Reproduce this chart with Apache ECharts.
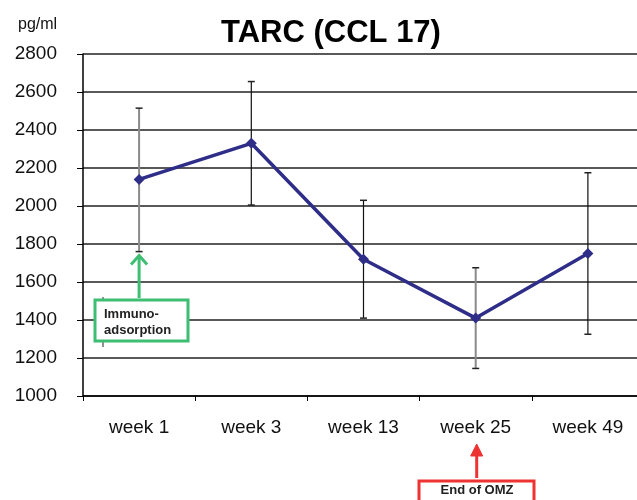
<!DOCTYPE html>
<html><head><meta charset="utf-8">
<script src="https://cdn.jsdelivr.net/npm/echarts@6/dist/echarts.min.js"></script>
<style>html,body{margin:0;padding:0;background:#fff;overflow:hidden}#c{width:644px;height:500px}</style>
</head><body><div id="c"></div>
<script>
var categories = ['week 1', 'week 3', 'week 13', 'week 25', 'week 49'];
var meanValues = [2140, 2330, 1720, 1410, 1750];
var errLow = [1760, 2005, 1410, 1145, 1325];
var errHigh = [2515, 2655, 2030, 1675, 2175];
var yTicks = [1000, 1200, 1400, 1600, 1800, 2000, 2200, 2400, 2600, 2800];

var chart = echarts.init(document.getElementById('c'), null, {renderer: 'canvas'});
var FONT = '"Liberation Sans", Arial, sans-serif';
var grayIdx = {0: true, 3: true};

chart.setOption({
  animation: false,
  backgroundColor: '#fff',
  title: {
    text: 'TARC (CCL 17)', left: 326, top: 13, textAlign: 'center',
    textStyle: {fontFamily: FONT, fontSize: 31, fontWeight: 'bold', color: '#000'}
  },
  grid: {left: 83, top: 54, right: 0, height: 342, containLabel: false},
  xAxis: {
    type: 'category', data: categories, boundaryGap: true,
    axisLine: {lineStyle: {color: '#000', width: 1.5}},
    axisTick: {show: true, length: 5, lineStyle: {color: '#000'}},
    axisLabel: {fontFamily: FONT, fontSize: 19, color: '#111', margin: 22}
  },
  yAxis: {
    type: 'value', min: yTicks[0], max: yTicks[yTicks.length - 1], interval: 200,
    axisLine: {show: true, lineStyle: {color: '#000', width: 1.5}},
    axisTick: {show: true, length: 6, lineStyle: {color: '#000'}},
    axisLabel: {fontFamily: FONT, fontSize: 19, color: '#111', margin: 26, formatter: function (v) { return String(v); }},
    splitLine: {lineStyle: {color: '#222', width: 1.5}}
  },
  series: [
    {
      type: 'custom', z: 2,
      data: categories.map(function (c, i) { return [i, errLow[i], errHigh[i]]; }),
      renderItem: function (params, api) {
        var i = api.value(0);
        var lo = api.coord([i, api.value(1)]);
        var hi = api.coord([i, api.value(2)]);
        var gray = grayIdx[params.dataIndex];
        var st = {stroke: gray ? '#8a8a8a' : '#111', lineWidth: gray ? 2 : 1.2};
        var w = 3.5;
        return {type: 'group', children: [
          {type: 'line', shape: {x1: lo[0], y1: lo[1], x2: hi[0], y2: hi[1]}, style: st},
          {type: 'line', shape: {x1: lo[0] - w, y1: lo[1], x2: lo[0] + w, y2: lo[1]}, style: {stroke: '#222', lineWidth: 1.5}},
          {type: 'line', shape: {x1: hi[0] - w, y1: hi[1], x2: hi[0] + w, y2: hi[1]}, style: {stroke: '#222', lineWidth: 1.5}}
        ]};
      }
    },
    {
      type: 'line', data: meanValues, z: 3,
      symbol: 'diamond', symbolSize: 11,
      lineStyle: {color: '#2E2D88', width: 3.5},
      itemStyle: {color: '#2E2D88'}
    }
  ]
});

var p1 = chart.convertToPixel({xAxisIndex: 0, yAxisIndex: 0}, [0, errLow[0]]);
var p4 = chart.convertToPixel({xAxisIndex: 0, yAxisIndex: 0}, [3, 1000]);
chart.setOption({
  graphic: [
    {type: 'text', left: 18, top: 17, style: {text: 'pg/ml', font: '16px ' + FONT, fill: '#111'}},
    {type: 'line', shape: {x1: 103, y1: 297, x2: 103, y2: 347}, style: {stroke: '#222', lineWidth: 1}},
    {type: 'line', shape: {x1: p1[0], y1: 298, x2: p1[0], y2: p1[1] + 6}, style: {stroke: '#3DBE72', lineWidth: 3}},
    {type: 'polyline', shape: {points: [[p1[0] - 8, p1[1] + 13], [p1[0], p1[1] + 4], [p1[0] + 8, p1[1] + 13]]}, style: {stroke: '#3DBE72', lineWidth: 3, fill: null}},
    {type: 'rect', shape: {x: 95, y: 300, width: 93, height: 41}, style: {fill: '#fff', stroke: '#3DBE72', lineWidth: 3}, z: 10},
    {type: 'text', x: 104, y: 306, z: 11, style: {text: 'Immuno-\nadsorption', font: 'bold 13px ' + FONT, fill: '#222', lineHeight: 16}},
    {type: 'line', shape: {x1: p4[0] + 1, y1: 478, x2: p4[0] + 1, y2: 452}, style: {stroke: '#EE3333', lineWidth: 3}},
    {type: 'polygon', shape: {points: [[p4[0] - 5, p4[1] + 60], [p4[0] + 1, p4[1] + 48], [p4[0] + 7, p4[1] + 60]]}, style: {stroke: '#EE3333', lineWidth: 1, fill: '#EE3333'}},
    {type: 'rect', shape: {x: 419, y: 481, width: 115, height: 30}, style: {fill: '#fff', stroke: '#EE3333', lineWidth: 3}, z: 10},
    {type: 'text', x: 477, y: 484, z: 11, style: {text: 'End of OMZ', font: 'bold 13px ' + FONT, fill: '#222', align: 'center'}}
  ]
});
</script></body></html>
